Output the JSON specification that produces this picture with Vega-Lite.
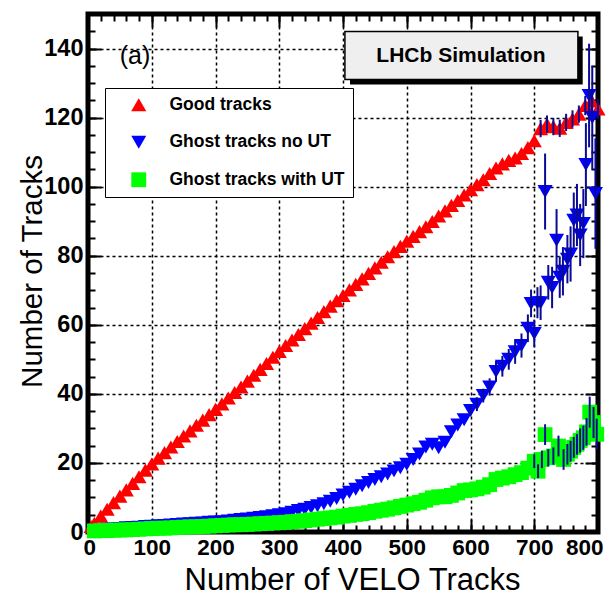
{
  "$schema": "https://vega.github.io/schema/vega-lite/v6.json",
  "width": 510,
  "height": 518,
  "autosize": "none",
  "padding": {"left": 88, "top": 14, "right": 17, "bottom": 63},
  "background": "white",
  "config": {
    "view": {"stroke": "black", "strokeWidth": 5},
    "font": "Liberation Sans"
  },
  "data": {"values": [
    {"x":5,"y":1.6,"s":"Good tracks"},{"x":10,"y":2.5,"s":"Good tracks"},{"x":20,"y":4.6,"s":"Good tracks"},{"x":30,"y":6.6,"s":"Good tracks"},{"x":40,"y":8.5,"s":"Good tracks"},{"x":50,"y":10.4,"s":"Good tracks"},{"x":60,"y":12.2,"s":"Good tracks"},{"x":70,"y":14.1,"s":"Good tracks"},{"x":80,"y":16.0,"s":"Good tracks"},{"x":90,"y":17.9,"s":"Good tracks"},{"x":100,"y":19.7,"s":"Good tracks"},{"x":110,"y":21.4,"s":"Good tracks"},{"x":120,"y":23.0,"s":"Good tracks"},{"x":130,"y":24.6,"s":"Good tracks"},{"x":140,"y":26.2,"s":"Good tracks"},{"x":150,"y":27.8,"s":"Good tracks"},{"x":160,"y":29.3,"s":"Good tracks"},{"x":170,"y":30.9,"s":"Good tracks"},{"x":180,"y":32.4,"s":"Good tracks"},{"x":190,"y":34.0,"s":"Good tracks"},{"x":200,"y":35.5,"s":"Good tracks"},{"x":210,"y":37.1,"s":"Good tracks"},{"x":220,"y":38.8,"s":"Good tracks"},{"x":230,"y":40.4,"s":"Good tracks"},{"x":240,"y":42.0,"s":"Good tracks"},{"x":250,"y":43.7,"s":"Good tracks"},{"x":260,"y":45.4,"s":"Good tracks"},{"x":270,"y":47.1,"s":"Good tracks"},{"x":280,"y":48.8,"s":"Good tracks"},{"x":290,"y":50.6,"s":"Good tracks"},{"x":300,"y":52.3,"s":"Good tracks"},{"x":310,"y":54.0,"s":"Good tracks"},{"x":320,"y":55.6,"s":"Good tracks"},{"x":330,"y":57.2,"s":"Good tracks"},{"x":340,"y":58.9,"s":"Good tracks"},{"x":350,"y":60.5,"s":"Good tracks"},{"x":360,"y":62.1,"s":"Good tracks"},{"x":370,"y":63.8,"s":"Good tracks"},{"x":380,"y":65.4,"s":"Good tracks"},{"x":390,"y":67.0,"s":"Good tracks"},{"x":400,"y":68.5,"s":"Good tracks"},{"x":410,"y":70.1,"s":"Good tracks"},{"x":420,"y":71.7,"s":"Good tracks"},{"x":430,"y":73.3,"s":"Good tracks"},{"x":440,"y":74.9,"s":"Good tracks"},{"x":450,"y":76.5,"s":"Good tracks"},{"x":460,"y":78.1,"s":"Good tracks"},{"x":470,"y":79.7,"s":"Good tracks"},{"x":480,"y":81.2,"s":"Good tracks"},{"x":490,"y":82.7,"s":"Good tracks"},{"x":500,"y":84.2,"s":"Good tracks"},{"x":510,"y":85.6,"s":"Good tracks"},{"x":520,"y":87.0,"s":"Good tracks"},{"x":530,"y":88.4,"s":"Good tracks"},{"x":540,"y":89.9,"s":"Good tracks"},{"x":550,"y":91.5,"s":"Good tracks"},{"x":560,"y":93.0,"s":"Good tracks"},{"x":570,"y":94.6,"s":"Good tracks"},{"x":580,"y":96.0,"s":"Good tracks"},{"x":590,"y":97.6,"s":"Good tracks"},{"x":600,"y":99.1,"s":"Good tracks"},{"x":610,"y":100.6,"s":"Good tracks"},{"x":620,"y":102.0,"s":"Good tracks"},{"x":630,"y":103.8,"s":"Good tracks"},{"x":640,"y":105.4,"s":"Good tracks"},{"x":650,"y":106.6,"s":"Good tracks"},{"x":660,"y":107.6,"s":"Good tracks"},{"x":670,"y":108.3,"s":"Good tracks"},{"x":680,"y":109.6,"s":"Good tracks"},{"x":690,"y":111.3,"s":"Good tracks"},{"x":700,"y":113.3,"s":"Good tracks"},{"x":710,"y":116.8,"s":"Good tracks","lo":114.3,"hi":119.3},{"x":720,"y":118.1,"s":"Good tracks","lo":115.6,"hi":120.6},{"x":730,"y":117.4,"s":"Good tracks","lo":114.9,"hi":119.9},{"x":740,"y":116.9,"s":"Good tracks","lo":114.4,"hi":119.4},{"x":750,"y":118.6,"s":"Good tracks","lo":116.1,"hi":121.1},{"x":760,"y":119.6,"s":"Good tracks","lo":117.1,"hi":122.1},{"x":770,"y":121.0,"s":"Good tracks","lo":118.5,"hi":123.5},{"x":780,"y":123.5,"s":"Good tracks","lo":120.7,"hi":126.3},{"x":790,"y":124.8,"s":"Good tracks","lo":122.0,"hi":127.6},{"x":800,"y":122.5,"s":"Good tracks","lo":119.7,"hi":125.3},
    {"x":10,"y":0.5,"s":"Ghost tracks no UT"},{"x":20,"y":0.6,"s":"Ghost tracks no UT"},{"x":30,"y":0.8,"s":"Ghost tracks no UT"},{"x":40,"y":0.9,"s":"Ghost tracks no UT"},{"x":50,"y":1.0,"s":"Ghost tracks no UT"},{"x":60,"y":1.2,"s":"Ghost tracks no UT"},{"x":70,"y":1.3,"s":"Ghost tracks no UT"},{"x":80,"y":1.4,"s":"Ghost tracks no UT"},{"x":90,"y":1.6,"s":"Ghost tracks no UT"},{"x":100,"y":1.7,"s":"Ghost tracks no UT"},{"x":110,"y":1.8,"s":"Ghost tracks no UT"},{"x":120,"y":1.9,"s":"Ghost tracks no UT"},{"x":130,"y":2.0,"s":"Ghost tracks no UT"},{"x":140,"y":2.2,"s":"Ghost tracks no UT"},{"x":150,"y":2.3,"s":"Ghost tracks no UT"},{"x":160,"y":2.4,"s":"Ghost tracks no UT"},{"x":170,"y":2.5,"s":"Ghost tracks no UT"},{"x":180,"y":2.6,"s":"Ghost tracks no UT"},{"x":190,"y":2.8,"s":"Ghost tracks no UT"},{"x":200,"y":2.9,"s":"Ghost tracks no UT"},{"x":210,"y":3.0,"s":"Ghost tracks no UT"},{"x":220,"y":3.2,"s":"Ghost tracks no UT"},{"x":230,"y":3.4,"s":"Ghost tracks no UT"},{"x":240,"y":3.6,"s":"Ghost tracks no UT"},{"x":250,"y":3.8,"s":"Ghost tracks no UT"},{"x":260,"y":4.0,"s":"Ghost tracks no UT"},{"x":270,"y":4.2,"s":"Ghost tracks no UT"},{"x":280,"y":4.4,"s":"Ghost tracks no UT"},{"x":290,"y":4.7,"s":"Ghost tracks no UT"},{"x":300,"y":5.0,"s":"Ghost tracks no UT"},{"x":310,"y":5.3,"s":"Ghost tracks no UT"},{"x":320,"y":5.7,"s":"Ghost tracks no UT"},{"x":330,"y":6.2,"s":"Ghost tracks no UT"},{"x":340,"y":6.6,"s":"Ghost tracks no UT"},{"x":350,"y":7.1,"s":"Ghost tracks no UT"},{"x":360,"y":7.6,"s":"Ghost tracks no UT"},{"x":370,"y":8.2,"s":"Ghost tracks no UT"},{"x":380,"y":8.9,"s":"Ghost tracks no UT"},{"x":390,"y":9.7,"s":"Ghost tracks no UT"},{"x":400,"y":10.7,"s":"Ghost tracks no UT"},{"x":410,"y":11.5,"s":"Ghost tracks no UT"},{"x":420,"y":12.4,"s":"Ghost tracks no UT"},{"x":430,"y":13.4,"s":"Ghost tracks no UT"},{"x":440,"y":14.3,"s":"Ghost tracks no UT"},{"x":450,"y":15.2,"s":"Ghost tracks no UT"},{"x":460,"y":16.0,"s":"Ghost tracks no UT"},{"x":470,"y":16.8,"s":"Ghost tracks no UT"},{"x":480,"y":17.7,"s":"Ghost tracks no UT"},{"x":490,"y":18.6,"s":"Ghost tracks no UT"},{"x":500,"y":19.6,"s":"Ghost tracks no UT"},{"x":510,"y":21.0,"s":"Ghost tracks no UT"},{"x":520,"y":22.6,"s":"Ghost tracks no UT"},{"x":530,"y":24.6,"s":"Ghost tracks no UT"},{"x":540,"y":25.4,"s":"Ghost tracks no UT"},{"x":550,"y":24.4,"s":"Ghost tracks no UT"},{"x":560,"y":26.0,"s":"Ghost tracks no UT"},{"x":570,"y":29.0,"s":"Ghost tracks no UT"},{"x":580,"y":31.0,"s":"Ghost tracks no UT"},{"x":590,"y":32.5,"s":"Ghost tracks no UT"},{"x":600,"y":35.2,"s":"Ghost tracks no UT","lo":33.7,"hi":36.7},{"x":610,"y":37.0,"s":"Ghost tracks no UT","lo":35.0,"hi":39.0},{"x":620,"y":39.5,"s":"Ghost tracks no UT","lo":37.5,"hi":41.5},{"x":630,"y":42.0,"s":"Ghost tracks no UT","lo":39.5,"hi":44.5},{"x":640,"y":46.5,"s":"Ghost tracks no UT","lo":43.5,"hi":49.5},{"x":650,"y":48.0,"s":"Ghost tracks no UT","lo":45.0,"hi":51.0},{"x":660,"y":50.0,"s":"Ghost tracks no UT","lo":47.0,"hi":53.0},{"x":670,"y":52.2,"s":"Ghost tracks no UT","lo":48.7,"hi":55.7},{"x":680,"y":54.0,"s":"Ghost tracks no UT","lo":50.5,"hi":57.5},{"x":690,"y":59.0,"s":"Ghost tracks no UT","lo":55.0,"hi":63.0},{"x":695,"y":66.2,"s":"Ghost tracks no UT","lo":62.2,"hi":70.2},{"x":700,"y":57.5,"s":"Ghost tracks no UT","lo":53.5,"hi":61.5},{"x":705,"y":66.4,"s":"Ghost tracks no UT","lo":61.9,"hi":70.9},{"x":710,"y":66.4,"s":"Ghost tracks no UT","lo":61.4,"hi":71.4},{"x":717,"y":98.6,"s":"Ghost tracks no UT","lo":87.6,"hi":109.6},{"x":722,"y":72.3,"s":"Ghost tracks no UT","lo":67.3,"hi":77.3},{"x":728,"y":70.8,"s":"Ghost tracks no UT","lo":64.8,"hi":76.8},{"x":735,"y":84.5,"s":"Ghost tracks no UT","lo":75.5,"hi":93.5},{"x":740,"y":73.8,"s":"Ghost tracks no UT","lo":67.8,"hi":79.8},{"x":745,"y":75.5,"s":"Ghost tracks no UT","lo":68.5,"hi":82.5},{"x":752,"y":79.0,"s":"Ghost tracks no UT","lo":72.0,"hi":86.0},{"x":757,"y":80.5,"s":"Ghost tracks no UT","lo":72.5,"hi":88.5},{"x":762,"y":90.3,"s":"Ghost tracks no UT","lo":82.3,"hi":98.3},{"x":767,"y":91.8,"s":"Ghost tracks no UT","lo":82.8,"hi":100.8},{"x":772,"y":86.0,"s":"Ghost tracks no UT","lo":77.0,"hi":95.0},{"x":777,"y":89.3,"s":"Ghost tracks no UT","lo":79.3,"hi":99.3},{"x":781,"y":106.4,"s":"Ghost tracks no UT","lo":94.4,"hi":118.4},{"x":786,"y":126.4,"s":"Ghost tracks no UT","lo":111.4,"hi":141.4},{"x":791,"y":120.0,"s":"Ghost tracks no UT","lo":105.0,"hi":135.0},{"x":796,"y":98.0,"s":"Ghost tracks no UT","lo":82.0,"hi":114.0},
    {"x":10,"y":0.3,"s":"Ghost tracks with UT"},{"x":20,"y":0.4,"s":"Ghost tracks with UT"},{"x":30,"y":0.4,"s":"Ghost tracks with UT"},{"x":40,"y":0.5,"s":"Ghost tracks with UT"},{"x":50,"y":0.6,"s":"Ghost tracks with UT"},{"x":60,"y":0.6,"s":"Ghost tracks with UT"},{"x":70,"y":0.7,"s":"Ghost tracks with UT"},{"x":80,"y":0.8,"s":"Ghost tracks with UT"},{"x":90,"y":0.9,"s":"Ghost tracks with UT"},{"x":100,"y":1.0,"s":"Ghost tracks with UT"},{"x":110,"y":1.1,"s":"Ghost tracks with UT"},{"x":120,"y":1.1,"s":"Ghost tracks with UT"},{"x":130,"y":1.2,"s":"Ghost tracks with UT"},{"x":140,"y":1.3,"s":"Ghost tracks with UT"},{"x":150,"y":1.4,"s":"Ghost tracks with UT"},{"x":160,"y":1.5,"s":"Ghost tracks with UT"},{"x":170,"y":1.5,"s":"Ghost tracks with UT"},{"x":180,"y":1.6,"s":"Ghost tracks with UT"},{"x":190,"y":1.7,"s":"Ghost tracks with UT"},{"x":200,"y":1.8,"s":"Ghost tracks with UT"},{"x":210,"y":1.9,"s":"Ghost tracks with UT"},{"x":220,"y":2.0,"s":"Ghost tracks with UT"},{"x":230,"y":2.1,"s":"Ghost tracks with UT"},{"x":240,"y":2.1,"s":"Ghost tracks with UT"},{"x":250,"y":2.2,"s":"Ghost tracks with UT"},{"x":260,"y":2.3,"s":"Ghost tracks with UT"},{"x":270,"y":2.4,"s":"Ghost tracks with UT"},{"x":280,"y":2.5,"s":"Ghost tracks with UT"},{"x":290,"y":2.6,"s":"Ghost tracks with UT"},{"x":300,"y":2.7,"s":"Ghost tracks with UT"},{"x":310,"y":2.8,"s":"Ghost tracks with UT"},{"x":320,"y":3.0,"s":"Ghost tracks with UT"},{"x":330,"y":3.1,"s":"Ghost tracks with UT"},{"x":340,"y":3.3,"s":"Ghost tracks with UT"},{"x":350,"y":3.5,"s":"Ghost tracks with UT"},{"x":360,"y":3.7,"s":"Ghost tracks with UT"},{"x":370,"y":3.9,"s":"Ghost tracks with UT"},{"x":380,"y":4.1,"s":"Ghost tracks with UT"},{"x":390,"y":4.3,"s":"Ghost tracks with UT"},{"x":400,"y":4.6,"s":"Ghost tracks with UT"},{"x":410,"y":4.8,"s":"Ghost tracks with UT"},{"x":420,"y":5.1,"s":"Ghost tracks with UT"},{"x":430,"y":5.3,"s":"Ghost tracks with UT"},{"x":440,"y":5.6,"s":"Ghost tracks with UT"},{"x":450,"y":6.0,"s":"Ghost tracks with UT"},{"x":460,"y":6.3,"s":"Ghost tracks with UT"},{"x":470,"y":6.6,"s":"Ghost tracks with UT"},{"x":480,"y":7.0,"s":"Ghost tracks with UT"},{"x":490,"y":7.4,"s":"Ghost tracks with UT"},{"x":500,"y":7.8,"s":"Ghost tracks with UT"},{"x":510,"y":8.2,"s":"Ghost tracks with UT"},{"x":520,"y":8.6,"s":"Ghost tracks with UT"},{"x":530,"y":9.2,"s":"Ghost tracks with UT"},{"x":540,"y":9.9,"s":"Ghost tracks with UT"},{"x":550,"y":10.2,"s":"Ghost tracks with UT"},{"x":560,"y":10.2,"s":"Ghost tracks with UT"},{"x":570,"y":10.6,"s":"Ghost tracks with UT"},{"x":580,"y":11.3,"s":"Ghost tracks with UT"},{"x":590,"y":12.0,"s":"Ghost tracks with UT"},{"x":600,"y":12.2,"s":"Ghost tracks with UT"},{"x":610,"y":12.5,"s":"Ghost tracks with UT"},{"x":620,"y":13.0,"s":"Ghost tracks with UT"},{"x":630,"y":13.7,"s":"Ghost tracks with UT"},{"x":640,"y":15.2,"s":"Ghost tracks with UT"},{"x":650,"y":15.6,"s":"Ghost tracks with UT"},{"x":660,"y":16.0,"s":"Ghost tracks with UT"},{"x":670,"y":16.6,"s":"Ghost tracks with UT"},{"x":680,"y":17.2,"s":"Ghost tracks with UT"},{"x":690,"y":18.5,"s":"Ghost tracks with UT"},{"x":700,"y":20.5,"s":"Ghost tracks with UT","lo":18.5,"hi":22.5},{"x":706,"y":17.6,"s":"Ghost tracks with UT","lo":15.6,"hi":19.6},{"x":712,"y":21.0,"s":"Ghost tracks with UT","lo":18.5,"hi":23.5},{"x":717,"y":28.2,"s":"Ghost tracks with UT","lo":25.2,"hi":31.2},{"x":722,"y":21.5,"s":"Ghost tracks with UT","lo":19.0,"hi":24.0},{"x":730,"y":22.0,"s":"Ghost tracks with UT","lo":19.5,"hi":24.5},{"x":738,"y":24.9,"s":"Ghost tracks with UT","lo":21.9,"hi":27.9},{"x":746,"y":21.0,"s":"Ghost tracks with UT","lo":18.0,"hi":24.0},{"x":752,"y":22.5,"s":"Ghost tracks with UT","lo":19.5,"hi":25.5},{"x":757,"y":23.4,"s":"Ghost tracks with UT","lo":20.4,"hi":26.4},{"x":762,"y":24.5,"s":"Ghost tracks with UT","lo":21.5,"hi":27.5},{"x":767,"y":25.4,"s":"Ghost tracks with UT","lo":22.4,"hi":28.4},{"x":772,"y":26.5,"s":"Ghost tracks with UT","lo":23.0,"hi":30.0},{"x":777,"y":27.3,"s":"Ghost tracks with UT","lo":23.8,"hi":30.8},{"x":782,"y":29.0,"s":"Ghost tracks with UT","lo":25.0,"hi":33.0},{"x":787,"y":34.7,"s":"Ghost tracks with UT","lo":30.2,"hi":39.2},{"x":793,"y":31.7,"s":"Ghost tracks with UT","lo":27.2,"hi":36.2},{"x":798,"y":28.3,"s":"Ghost tracks with UT","lo":23.8,"hi":32.8}
  ]},
  "layer": [
    {
      "mark": {"type": "point", "filled": true, "opacity": 1, "strokeWidth": 0},
      "encoding": {
        "x": {"field": "x", "type": "quantitative",
          "scale": {"domain": [0, 800], "nice": false, "zero": false},
          "axis": {"orient": "bottom", "values": [0,100,200,300,400,500,600,700,800], "title": "Number of VELO Tracks",
            "grid": true, "gridDash": [3,3], "gridColor": "black", "gridWidth": 1.5, "gridOpacity": 1,
            "domain": false, "tickSize": -13, "tickWidth": 2, "tickColor": "black",
            "labelPadding": 17, "labelFontSize": 22.5, "labelFontWeight": "bold", "labelFont": "Liberation Sans", "labelColor": "black",
            "labelFlush": true, "labelFlushOffset": 5, "labelOverlap": false,
            "titleFontSize": 31, "titleFontWeight": "normal", "titleFont": "Liberation Sans", "titleColor": "black",
            "titleX": 264, "titleY": 48, "titleAlign": "center", "titleBaseline": "middle"}},
        "y": {"field": "y", "type": "quantitative",
          "scale": {"domain": [0, 150], "nice": false, "zero": false},
          "axis": {"orient": "left", "values": [0,20,40,60,80,100,120,140], "title": "Number of Tracks",
            "grid": true, "gridDash": [3,3], "gridColor": "black", "gridWidth": 1.5, "gridOpacity": 1,
            "domain": false, "tickSize": -13, "tickWidth": 2, "tickColor": "black",
            "labelPadding": 18, "labelFontSize": 23.5, "labelFontWeight": "bold", "labelFont": "Liberation Sans", "labelColor": "black",
            "labelFlush": false, "labelOverlap": false,
            "titleFontSize": 29.5, "titleFontWeight": "normal", "titleFont": "Liberation Sans", "titleColor": "black",
            "titleAngle": 270, "titleX": -56, "titleY": 257, "titleAlign": "center", "titleBaseline": "middle"}},
        "color": {"field": "s", "type": "nominal",
          "scale": {"domain": ["Good tracks", "Ghost tracks no UT", "Ghost tracks with UT"], "range": ["#ff0000", "#0000ff", "#00ff00"]},
          "legend": {"orient": "none", "legendX": 17, "legendY": 74, "title": null,
            "strokeColor": "black", "fillColor": "white", "padding": 8, "rowPadding": 18.5,
            "symbolOffset": 17, "labelOffset": 22, "labelFontSize": 17.5, "labelFontWeight": "bold", "labelLimit": 0,
            "labelFont": "Liberation Sans", "labelColor": "black", "symbolSize": 180, "symbolStrokeWidth": 0, "symbolOpacity": 1}},
        "shape": {"field": "s", "type": "nominal",
          "scale": {"domain": ["Good tracks", "Ghost tracks no UT", "Ghost tracks with UT"], "range": ["triangle-up", "triangle-down", "square"]},
          "legend": {"orient": "none", "legendX": 17, "legendY": 74, "title": null,
            "strokeColor": "black", "fillColor": "white", "padding": 8, "rowPadding": 18.5,
            "symbolOffset": 17, "labelOffset": 22, "labelFontSize": 17.5, "labelFontWeight": "bold", "labelLimit": 0,
            "labelFont": "Liberation Sans", "labelColor": "black", "symbolSize": 180, "symbolStrokeWidth": 0, "symbolOpacity": 1}},
        "size": {"field": "s", "type": "nominal", "legend": null,
          "scale": {"domain": ["Good tracks", "Ghost tracks no UT", "Ghost tracks with UT"], "range": [230, 220, 160]}}
      }
    },
    {
      "transform": [{"filter": "isValid(datum.lo)"}],
      "mark": {"type": "rule", "color": "#0a0a96", "strokeWidth": 2},
      "encoding": {
        "x": {"field": "x", "type": "quantitative",
          "axis": {"orient": "bottom", "values": [0,20,40,60,80,100,120,140,160,180,200,220,240,260,280,300,320,340,360,380,400,420,440,460,480,500,520,540,560,580,600,620,640,660,680,700,720,740,760,780,800],
            "labels": false, "grid": false, "domain": false, "title": null, "tickSize": -7, "tickWidth": 2, "tickColor": "black"}},
        "y": {"field": "lo", "type": "quantitative",
          "axis": {"orient": "left", "values": [0,5,10,15,20,25,30,35,40,45,50,55,60,65,70,75,80,85,90,95,100,105,110,115,120,125,130,135,140,145,150],
            "labels": false, "grid": false, "domain": false, "title": null, "tickSize": -7, "tickWidth": 2, "tickColor": "black"}},
        "y2": {"field": "hi"}
      }
    },
    {
      "data": {"values": [{}]},
      "mark": {"type": "rect", "color": "black"},
      "encoding": {
        "x": {"datum": 411, "type": "quantitative",
          "axis": {"orient": "top", "values": [0,100,200,300,400,500,600,700,800],
            "labels": false, "grid": false, "domain": false, "title": null, "tickSize": -13, "tickWidth": 2, "tickColor": "black"}},
        "x2": {"datum": 776},
        "y": {"datum": 143.5, "type": "quantitative",
          "axis": {"orient": "right", "values": [0,20,40,60,80,100,120,140],
            "labels": false, "grid": false, "domain": false, "title": null, "tickSize": -13, "tickWidth": 2, "tickColor": "black"}},
        "y2": {"datum": 129.6}
      }
    },
    {
      "data": {"values": [{}]},
      "mark": {"type": "rect", "fill": "#efefef", "stroke": "black", "strokeWidth": 1.5},
      "encoding": {
        "x": {"datum": 403, "type": "quantitative",
          "axis": {"orient": "top", "values": [0,20,40,60,80,100,120,140,160,180,200,220,240,260,280,300,320,340,360,380,400,420,440,460,480,500,520,540,560,580,600,620,640,660,680,700,720,740,760,780,800],
            "labels": false, "grid": false, "domain": false, "title": null, "tickSize": -7, "tickWidth": 2, "tickColor": "black"}},
        "x2": {"datum": 768.5},
        "y": {"datum": 144.9, "type": "quantitative",
          "axis": {"orient": "right", "values": [0,5,10,15,20,25,30,35,40,45,50,55,60,65,70,75,80,85,90,95,100,105,110,115,120,125,130,135,140,145,150],
            "labels": false, "grid": false, "domain": false, "title": null, "tickSize": -7, "tickWidth": 2, "tickColor": "black"}},
        "y2": {"datum": 131}
      }
    },
    {
      "data": {"values": [{}]},
      "mark": {"type": "text", "text": "LHCb Simulation", "font": "Liberation Sans", "fontSize": 21, "fontWeight": "bold", "color": "black", "align": "center", "baseline": "middle"},
      "encoding": {
        "x": {"datum": 585, "type": "quantitative", "axis": null},
        "y": {"datum": 137.9, "type": "quantitative", "axis": null}
      }
    },
    {
      "data": {"values": [{}]},
      "mark": {"type": "text", "text": "(a)", "font": "Liberation Sans", "fontSize": 25, "fontWeight": "normal", "color": "black", "align": "center", "baseline": "middle"},
      "encoding": {
        "x": {"datum": 73.7, "type": "quantitative", "axis": null},
        "y": {"datum": 137.7, "type": "quantitative", "axis": null}
      }
    }
  ],
  "resolve": {"axis": {"x": "independent", "y": "independent"}}
}
